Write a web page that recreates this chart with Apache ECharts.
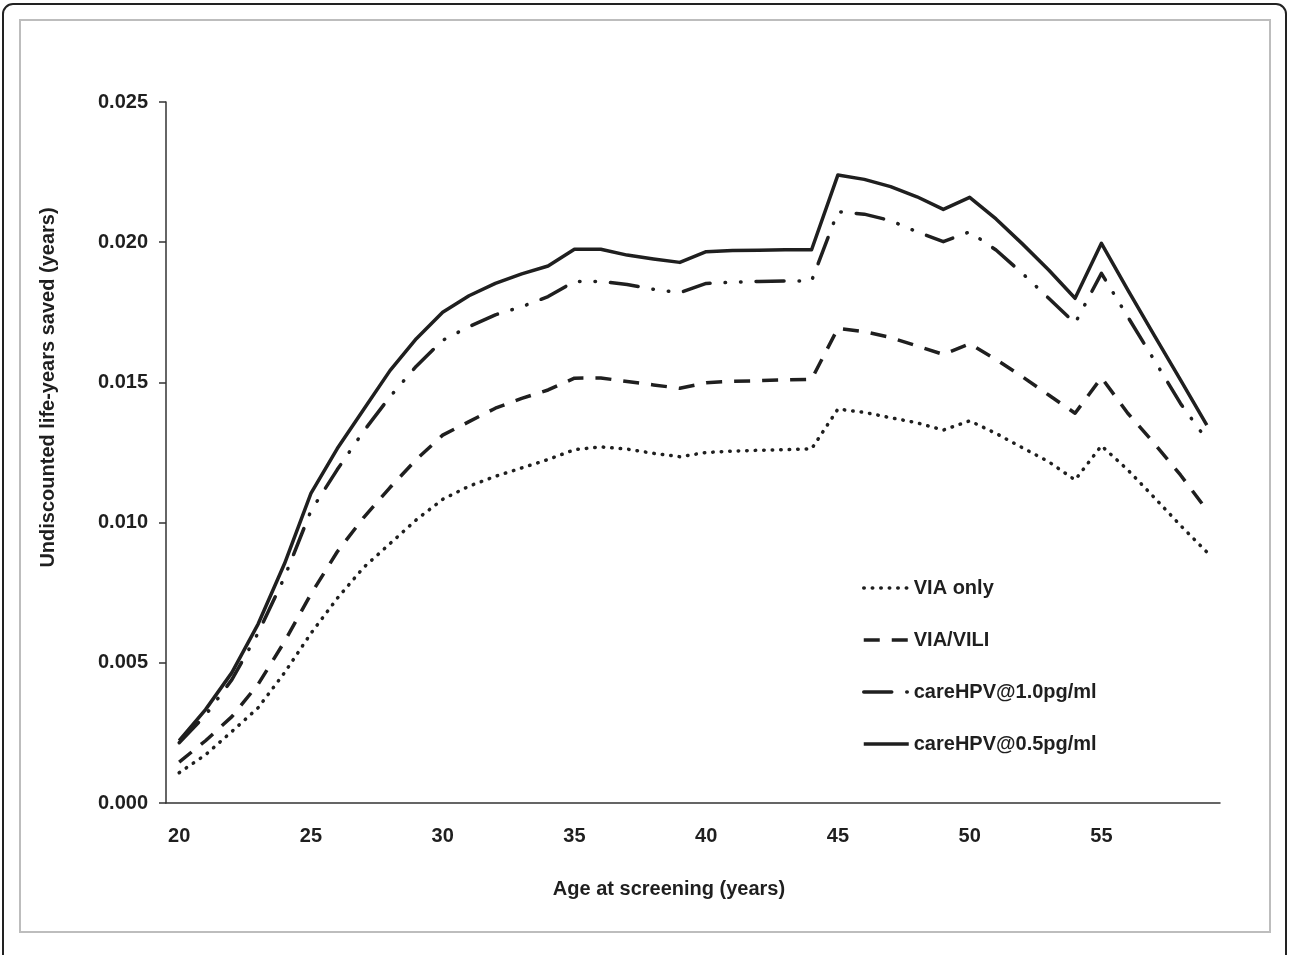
<!DOCTYPE html>
<html>
<head>
<meta charset="utf-8">
<script src="https://cdn.jsdelivr.net/npm/echarts@6/dist/echarts.min.js"></script>
<style>
  html, body { margin: 0; padding: 0; background: #fff; }
  #chart { width: 1290px; height: 955px; }
</style>
</head>
<body>
<div id="chart"></div>
<script>
// ages 20..59, one category each
const ages = ['20','21','22','23','24','25','26','27','28','29',
              '30','31','32','33','34','35','36','37','38','39',
              '40','41','42','43','44','45','46','47','48','49',
              '50','51','52','53','54','55','56','57','58','59'];

const viaOnly = [0.00108,0.00172,0.00255,0.00340,0.00465,0.00605,0.00730,0.00840,0.00925,0.01010,
                 0.01083,0.01130,0.01165,0.01195,0.01225,0.01260,0.01270,0.01262,0.01247,0.01235,
                 0.01250,0.01255,0.01258,0.01260,0.01263,0.01405,0.01393,0.01374,0.01356,0.01330,
                 0.01363,0.01318,0.01267,0.01217,0.01152,0.01274,0.01188,0.01090,0.00990,0.00895];

const viaVili = [0.00146,0.00222,0.00308,0.00424,0.00576,0.00745,0.00896,0.01018,0.01125,0.01225,
                 0.01312,0.01360,0.01408,0.01443,0.01473,0.01515,0.01516,0.01503,0.01491,0.01479,
                 0.01499,0.01504,0.01506,0.01509,0.01511,0.01693,0.01681,0.01660,0.01630,0.01600,
                 0.01638,0.01582,0.01520,0.01455,0.01390,0.01517,0.01390,0.01283,0.01170,0.01045];

const care10 = [0.00215,0.00313,0.00440,0.00607,0.00806,0.01042,0.01189,0.01326,0.01449,0.01558,
                0.01650,0.01699,0.01741,0.01770,0.01806,0.01860,0.01860,0.01849,0.01832,0.01820,
                0.01853,0.01857,0.01860,0.01862,0.01862,0.02109,0.02100,0.02077,0.02037,0.02002,
                0.02037,0.01972,0.01889,0.01800,0.01711,0.01889,0.01734,0.01580,0.01425,0.01295];

const care05 = [0.00222,0.00333,0.00465,0.00639,0.00854,0.01104,0.01264,0.01403,0.01542,0.01656,
                0.01750,0.01809,0.01853,0.01887,0.01915,0.01975,0.01975,0.01954,0.01940,0.01928,
                0.01966,0.01970,0.01971,0.01973,0.01973,0.02240,0.02224,0.02198,0.02162,0.02117,
                0.02160,0.02083,0.01994,0.01901,0.01800,0.01996,0.01830,0.01669,0.01509,0.01348];

const yTicks = ['0.000','0.005','0.010','0.015','0.020','0.025'];

const ink = '#1f1f1f';
const font = '"Liberation Sans", Arial, sans-serif';

const chart = echarts.init(document.getElementById('chart'), null, { renderer: 'canvas' });

function lineSeries(name, data, width, type, cap) {
  return {
    name: name,
    type: 'line',
    data: data,
    symbol: 'none',
    smooth: false,
    animation: false,
    lineStyle: { color: ink, width: width, type: type, cap: cap || 'butt', join: 'round' },
    itemStyle: { color: ink }
  };
}

chart.setOption({
  backgroundColor: '#fff',
  animation: false,
  textStyle: { fontFamily: font },
  grid: { left: 166, right: 70, top: 102, bottom: 152 },
  graphic: [
    { type: 'rect', shape: { x: 3, y: 4, width: 1283, height: 990, r: 10 },
      style: { fill: 'none', stroke: '#222', lineWidth: 2 }, silent: true },
    { type: 'rect', shape: { x: 20, y: 20, width: 1250, height: 912 },
      style: { fill: 'none', stroke: '#bdbdbd', lineWidth: 2 }, silent: true }
  ],
  legend: {
    orient: 'vertical',
    left: 857,
    top: 571,
    itemWidth: 45,
    itemHeight: 14,
    itemGap: 28,
    data: ['VIA only', 'VIA/VILI', 'careHPV@1.0pg/ml', 'careHPV@0.5pg/ml'],
    itemStyle: { color: 'rgba(0,0,0,0)', borderColor: 'rgba(0,0,0,0)', borderWidth: 0, opacity: 0 },
    lineStyle: { width: 3.5 },
    textStyle: { color: ink, fontSize: 20, fontWeight: 'bold', fontFamily: font, lineHeight: 24 }
  },
  xAxis: {
    type: 'category',
    data: ages,
    boundaryGap: true,
    name: 'Age at screening (years)',
    nameLocation: 'middle',
    nameGap: 76,
    nameTextStyle: { color: ink, fontSize: 20, fontWeight: 'bold', fontFamily: font, padding: [0, 48, 0, 0] },
    axisLine: { lineStyle: { color: '#333', width: 1.5 } },
    axisTick: { interval: 4, length: 6, lineStyle: { color: '#333', width: 1.5 } },
    axisLabel: { interval: 4, margin: 23, color: ink, fontSize: 20, fontWeight: 'bold', fontFamily: font },
    splitLine: { show: false }
  },
  yAxis: {
    type: 'value',
    min: 0,
    max: 0.025,
    interval: 0.005,
    name: 'Undiscounted life-years saved (years)',
    nameLocation: 'middle',
    nameRotate: 90,
    nameGap: 108,
    nameTextStyle: { color: ink, fontSize: 20, fontWeight: 'bold', fontFamily: font, padding: [0, 0, 0, 130] },
    axisLine: { show: true, lineStyle: { color: '#333', width: 1.5 } },
    axisTick: { show: true, length: 7, lineStyle: { color: '#333', width: 1.5 } },
    axisLabel: {
      margin: 18, color: ink, fontSize: 20, fontWeight: 'bold', fontFamily: font,
      formatter: function (v) { return yTicks[Math.round(v / 0.005)]; }
    },
    splitLine: { show: false }
  },
  series: [
    lineSeries('VIA only', viaOnly, 3.5, [0.5, 8], 'round'),
    lineSeries('VIA/VILI', viaVili, 3.5, [16, 12]),
    lineSeries('careHPV@1.0pg/ml', care10, 3.5, [28, 15, 0.5, 15, 0.5, 15], 'round'),
    lineSeries('careHPV@0.5pg/ml', care05, 3.5, 'solid')
  ]
});
</script>
</body>
</html>
